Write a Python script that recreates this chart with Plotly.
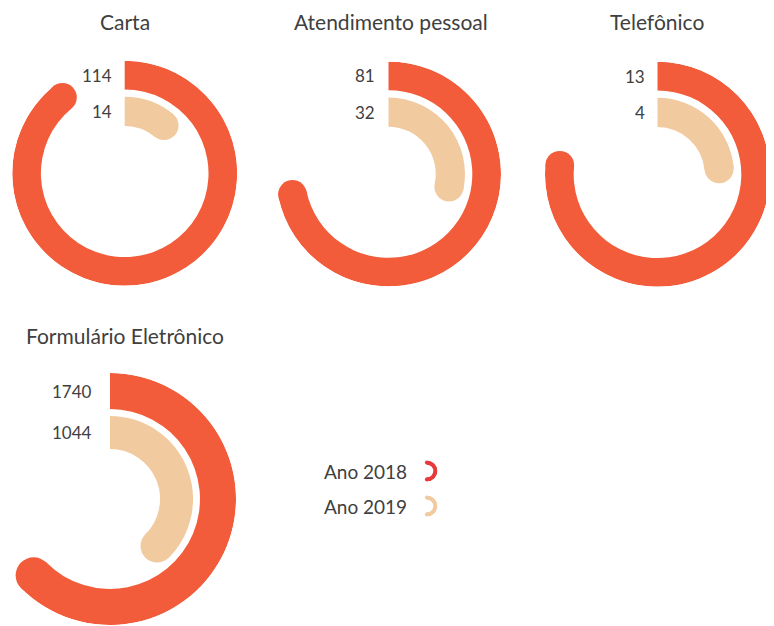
import math
import plotly.graph_objects as go

# ---------------- data ----------------
categories = ["Carta", "Atendimento pessoal", "Telefônico", "Formulário Eletrônico"]
ano_2018 = [114, 81, 13, 1740]
ano_2019 = [14, 32, 4, 1044]
legend_labels = ["Ano 2018", "Ano 2019"]

# ---------------- style / layout ----------------
W, H = 774, 626
OFF = 8  # page body margin compensation
COL_2018 = "#F25C3A"
COL_2019 = "#F2CA9F"
COL_2018_ICON = "#E8393B"
TXT = "#404040"
FONT = "Lato"

centers = [(124.7, 173.3), (388.5, 174.0), (657.5, 174.3), (110.0, 499.0)]
radii = [112.5, 112.5, 112.5, 126.0]
outer_in = [0.745, 0.745, 0.745, 0.714]
inner_out = [0.68, 0.68, 0.68, 0.659]
inner_in = [0.42, 0.42, 0.42, 0.397]
sectors = [None, None, None, (-140, 90)]
title_pos = [(125, 22), (391, 22), (657, 22), (125, 335)]
label_gap = [10.5, 12, 10.5, 16]


def px(x):
    return (x - OFF) / W


def py(y):
    return 1 - (y - OFF) / H


fig = go.Figure()
annotations = []

for i, cat in enumerate(categories):
    pid = "polar" if i == 0 else f"polar{i+1}"
    total = ano_2018[i] + ano_2019[i]
    cx, cy = centers[i]
    R = radii[i]
    rings = [
        (ano_2018[i], outer_in[i], 1.0, COL_2018),
        (ano_2019[i], inner_in[i], inner_out[i], COL_2019),
    ]
    for val, r0, r1, col in rings:
        ang = val / total * 360.0
        fig.add_trace(go.Barpolar(
            r=[r1 - r0], base=[r0], theta=[ang / 2], width=[ang],
            marker=dict(color=col, line=dict(width=0)),
            subplot=pid, hoverinfo="skip", showlegend=False,
        ))
        fig.add_trace(go.Scatterpolar(
            r=[(r0 + r1) / 2], theta=[ang], mode="markers",
            marker=dict(color=col, size=(r1 - r0) * R, line=dict(width=0)),
            cliponaxis=False, subplot=pid, hoverinfo="skip", showlegend=False,
        ))
        annotations.append(dict(
            x=px(cx - label_gap[i]), y=py(cy - (r0 + r1) / 2 * R),
            xref="paper", yref="paper", xanchor="right", yanchor="middle",
            text=str(val), showarrow=False,
            font=dict(family=FONT, size=17, color=TXT),
        ))

    if sectors[i] is None:
        x0, x1 = cx - R, cx + R
        polar_extra = {}
    else:
        s0, s1 = sectors[i]
        x0, x1 = cx + R * math.cos(math.radians(s0)), cx + R
        polar_extra = dict(sector=list(sectors[i]))
    y0, y1 = cy - R, cy + R
    fig.layout[pid] = dict(
        domain=dict(x=[max(0, px(x0)), min(1, px(x1))],
                    y=[max(0, py(y1)), min(1, py(y0))]),
        bgcolor="rgba(0,0,0,0)",
        hole=0,
        radialaxis=dict(visible=False, range=[0, 1]),
        angularaxis=dict(visible=False, rotation=90, direction="clockwise"),
        **polar_extra,
    )
    tx, ty = title_pos[i]
    annotations.append(dict(
        x=px(tx), y=py(ty), xref="paper", yref="paper",
        xanchor="center", yanchor="middle", text=cat, showarrow=False,
        font=dict(family=FONT, size=21, color=TXT),
    ))

# ---------------- legend ----------------
legend_y = [471, 506]
legend_cols = [COL_2018_ICON, COL_2019]
icon_cx, icon_R = 427.0, 10.5
for j, lab in enumerate(legend_labels):
    pid = f"polar{5 + j}"
    cy = legend_y[j]
    r0, r1 = 0.6, 1.0
    fig.add_trace(go.Barpolar(
        r=[r1 - r0], base=[r0], theta=[90], width=[180],
        marker=dict(color=legend_cols[j], line=dict(width=0)),
        subplot=pid, hoverinfo="skip", showlegend=False,
    ))
    fig.add_trace(go.Scatterpolar(
        r=[(r0 + r1) / 2] * 2, theta=[0, 180], mode="markers",
        marker=dict(color=legend_cols[j], size=(r1 - r0) * icon_R, line=dict(width=0)),
        cliponaxis=False, subplot=pid, hoverinfo="skip", showlegend=False,
    ))
    fig.layout[pid] = dict(
        domain=dict(x=[px(icon_cx), px(icon_cx + icon_R)],
                    y=[py(cy + icon_R), py(cy - icon_R)]),
        sector=[-90, 90],
        bgcolor="rgba(0,0,0,0)",
        radialaxis=dict(visible=False, range=[0, 1]),
        angularaxis=dict(visible=False, rotation=90, direction="clockwise"),
    )
    annotations.append(dict(
        x=px(409), y=py(cy), xref="paper", yref="paper",
        xanchor="right", yanchor="middle", text=lab, showarrow=False,
        font=dict(family=FONT, size=19, color=TXT),
    ))

fig.update_layout(
    width=W, height=H,
    margin=dict(l=0, r=0, t=0, b=0),
    paper_bgcolor="white", plot_bgcolor="white",
    showlegend=False, annotations=annotations,
    hovermode=False,
)

fig.write_html("out.html")
